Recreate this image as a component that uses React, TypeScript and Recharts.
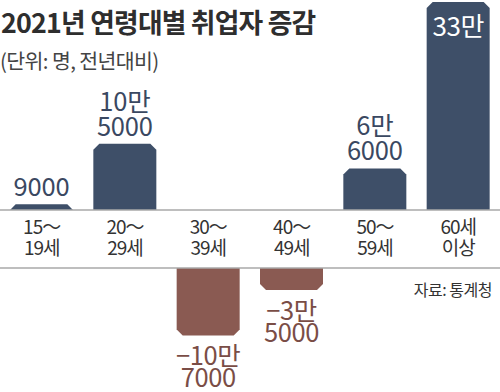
import { BarChart, Bar, XAxis, YAxis, LabelList, ReferenceLine } from 'recharts'

// 2021년 연령대별 취업자 증감 (단위: 명, 전년대비)
const categories = ['15～\n19세', '20～\n29세', '30～\n39세', '40～\n49세', '50～\n59세', '60세\n이상']
const changes = [9000, 105000, -107000, -35000, 66000, 330000]

const titleText = '2021년 연령대별 취업자 증감'
const unitText = '(단위: 명, 전년대비)'
const sourceText = '자료: 통계청'

const FONT = '"Noto Sans CJK KR", "Noto Sans", sans-serif'
const NAVY = '#3e4f68'
const NAVY_TEXT = '#3a4861'
const BROWN = '#8a5a52'
const BROWN_TEXT = '#7a4d46'
const LINE = '#a8a8a8'

const upRows = categories.map((name, i) => ({ name, value: changes[i] > 0 ? changes[i] : null }))
const downRows = categories.map((name, i) => ({ name, value: changes[i] < 0 ? changes[i] : null }))

// 105000 -> ['10만', '5000']
function toKorean(v: number): string[] {
  const sign = v < 0 ? '−' : ''
  const a = Math.abs(v)
  const man = Math.floor(a / 10000)
  const rest = a % 10000
  if (man === 0) return [sign + rest]
  return rest ? [`${sign}${man}만`, `${rest}`] : [`${sign}${man}만`]
}

function ChamferBar(props: any) {
  const { x, y, width, height, fill, at } = props
  if (!height || !width) return null
  const top = Math.min(y, y + height)
  const h = Math.abs(height)
  const c = Math.min(6, h)
  const w = width
  const d =
    at === 'bottom'
      ? `M${x},${top} L${x + w},${top} L${x + w},${top + h - c} L${x + w - c},${top + h} L${x + c},${top + h} L${x},${top + h - c} Z`
      : `M${x},${top + h} L${x},${top + c} L${x + c},${top} L${x + w - c},${top} L${x + w},${top + c} L${x + w},${top + h} Z`
  return <path d={d} fill={fill} />
}

function UpLabel(props: any) {
  const { x, y, width, value } = props
  if (value == null) return null
  const lines = toKorean(value)
  const cx = x + width / 2
  // tall bar: label sits inside in white
  if (y - 40 < 0) {
    return (
      <text x={cx} y={y + 34} textAnchor="middle" fontSize={26} fill="#fff" fontFamily={FONT} letterSpacing={-0.5}>
        {lines.join(' ')}
      </text>
    )
  }
  const n = lines.length
  return (
    <text textAnchor="middle" fontSize={25.5} fill={NAVY_TEXT} fontFamily={FONT} letterSpacing={-0.2}>
      {lines.map((l, i) => (
        <tspan key={i} x={cx} y={y - 8 - (n - 1 - i) * 25}>{l}</tspan>
      ))}
    </text>
  )
}

function DownLabel(props: any) {
  const { x, y, width, height, value } = props
  if (value == null) return null
  const lines = toKorean(value)
  const cx = x + width / 2
  const bottom = Math.max(y, y + height)
  return (
    <text textAnchor="middle" fontSize={25.5} fill={BROWN_TEXT} fontFamily={FONT} letterSpacing={-0.4}>
      {lines.map((l, i) => (
        <tspan key={i} x={cx} y={bottom + 30 + i * 22}>{l}</tspan>
      ))}
    </text>
  )
}

function CatTick(props: any) {
  const { x, y, payload } = props
  const [a, b] = String(payload.value).split('\n')
  return (
    <text textAnchor="middle" fontSize={19} fill="#333" fontFamily={FONT} letterSpacing={-1}>
      <tspan x={x} y={y + 24}>{a}</tspan>
      <tspan x={x} y={y + 45}>{b}</tspan>
    </text>
  )
}

export default function App() {
  return (
    <div style={{ position: 'absolute', left: 0, top: 0, width: 500, height: 392, background: '#fff', fontFamily: FONT, overflow: 'hidden' }}>
      <div style={{ position: 'absolute', left: 0, top: 0 }}>
        <BarChart width={500} height={265} data={upRows} margin={{ top: 2, right: 0, left: 0, bottom: 0 }}>
          <XAxis
            dataKey="name"
            height={55}
            axisLine={{ stroke: LINE, strokeWidth: 1.5 }}
            tickLine={false}
            tickSize={0}
            tickMargin={0}
            interval={0}
            tick={<CatTick />}
          />
          <YAxis hide domain={[0, 330000]} />
          <Bar dataKey="value" fill={NAVY} barSize={63} isAnimationActive={false} shape={(p: any) => <ChamferBar {...p} at="top" />}>
            <LabelList dataKey="value" content={<UpLabel />} />
          </Bar>
        </BarChart>
      </div>
      <div style={{ position: 'absolute', left: 0, top: 266 }}>
        <BarChart width={500} height={128} data={downRows} margin={{ top: 2, right: 0, left: 0, bottom: 0 }}>
          <XAxis dataKey="name" hide />
          <YAxis hide domain={[-200000, 0]} />
          <ReferenceLine y={0} stroke={LINE} strokeWidth={1.5} />
          <Bar dataKey="value" fill={BROWN} barSize={63} isAnimationActive={false} shape={(p: any) => <ChamferBar {...p} at="bottom" />}>
            <LabelList dataKey="value" content={<DownLabel />} />
          </Bar>
        </BarChart>
      </div>
      <div style={{ position: 'absolute', left: 1, top: 9, fontSize: 26.8, lineHeight: 1, fontWeight: 700, color: '#2e2e2e', letterSpacing: -0.8, whiteSpace: 'nowrap' }}>
        {titleText}
      </div>
      <div style={{ position: 'absolute', left: 0, top: 50, fontSize: 20.5, lineHeight: 1, color: '#444', letterSpacing: -0.6, whiteSpace: 'nowrap' }}>
        {unitText}
      </div>
      <div style={{ position: 'absolute', right: 8, top: 281, fontSize: 16, lineHeight: 1, color: '#333', letterSpacing: -0.5, whiteSpace: 'nowrap' }}>
        {sourceText}
      </div>
    </div>
  )
}
